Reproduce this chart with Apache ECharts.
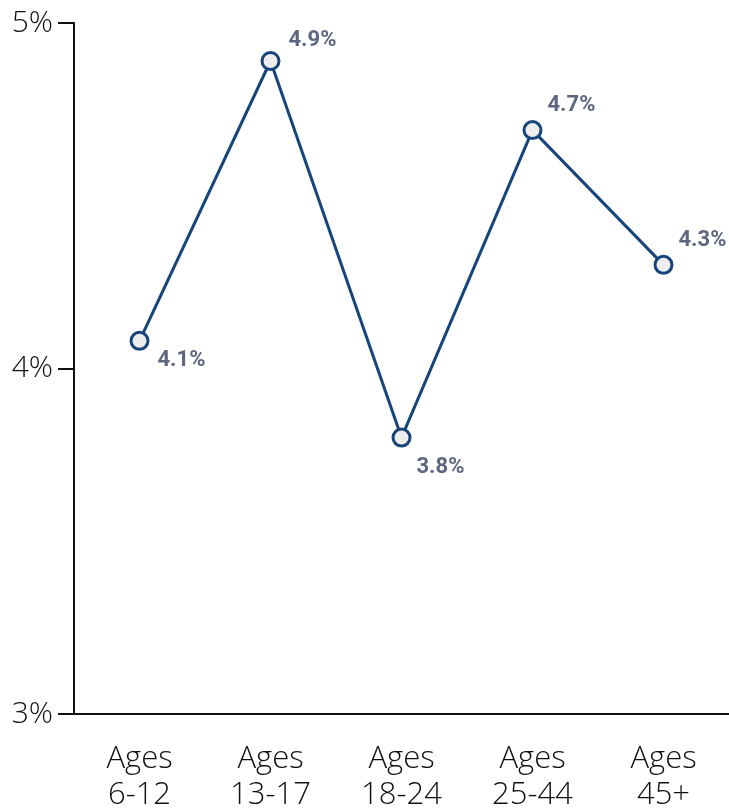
<!DOCTYPE html>
<html>
<head>
<meta charset="utf-8">
<script src="https://cdn.jsdelivr.net/npm/echarts@6/dist/echarts.min.js"></script>
<style>html,body{margin:0;padding:0;background:#fff}#c{width:729px;height:809px}</style>
</head>
<body>
<div id="c"></div>
<script>
var categories = ['Ages\n6-12', 'Ages\n13-17', 'Ages\n18-24', 'Ages\n25-44', 'Ages\n45+'];
var values = [4.08, 4.89, 3.80, 4.69, 4.30];
var valueLabels = ['4.1%', '4.9%', '3.8%', '4.7%', '4.3%'];
var labelOffsets = [[3, 20], [3, -21], [0, 30], [0, -25], [0, -24]];
var yTicks = [3, 4, 5];

var chart = echarts.init(document.getElementById('c'), null, {renderer: 'canvas'});
var data = values.map(function (v, i) {
  return {
    value: v,
    label: {offset: labelOffsets[i], formatter: valueLabels[i]}
  };
});
chart.setOption({
  animation: false,
  grid: {left: 74, right: 0, top: 23, bottom: 95, containLabel: false, outerBoundsMode: 'none'},
  xAxis: {
    type: 'category',
    data: categories,
    boundaryGap: true,
    axisLine: {lineStyle: {color: '#111', width: 2}},
    axisTick: {alignWithLabel: true, length: 18, lineStyle: {color: '#111', width: 2}},
    axisLabel: {color: '#111', fontFamily: 'Open Sans', fontWeight: 300, fontSize: 31, lineHeight: 36, margin: 27}
  },
  yAxis: {
    type: 'value',
    min: 3, max: 5, interval: 1,
    axisLine: {show: true, lineStyle: {color: '#111', width: 2}},
    axisTick: {show: true, length: 16, lineStyle: {color: '#111', width: 2}},
    splitLine: {show: false},
    axisLabel: {
      color: '#111', fontFamily: 'Open Sans', fontWeight: 300, fontSize: 30, margin: 21,
      formatter: function (v) { return yTicks.indexOf(v) >= 0 ? v + '%' : ''; }
    }
  },
  series: [{
    type: 'line',
    data: data,
    symbol: 'circle',
    symbolSize: 17,
    lineStyle: {color: '#17457a', width: 3},
    itemStyle: {color: '#eeeeee', borderColor: '#17457a', borderWidth: 3},
    label: {
      show: true, position: 'right', distance: 5,
      color: '#5f6680', fontFamily: 'Roboto', fontWeight: 'bold', fontSize: 22
    }
  }]
});
</script>
</body>
</html>
